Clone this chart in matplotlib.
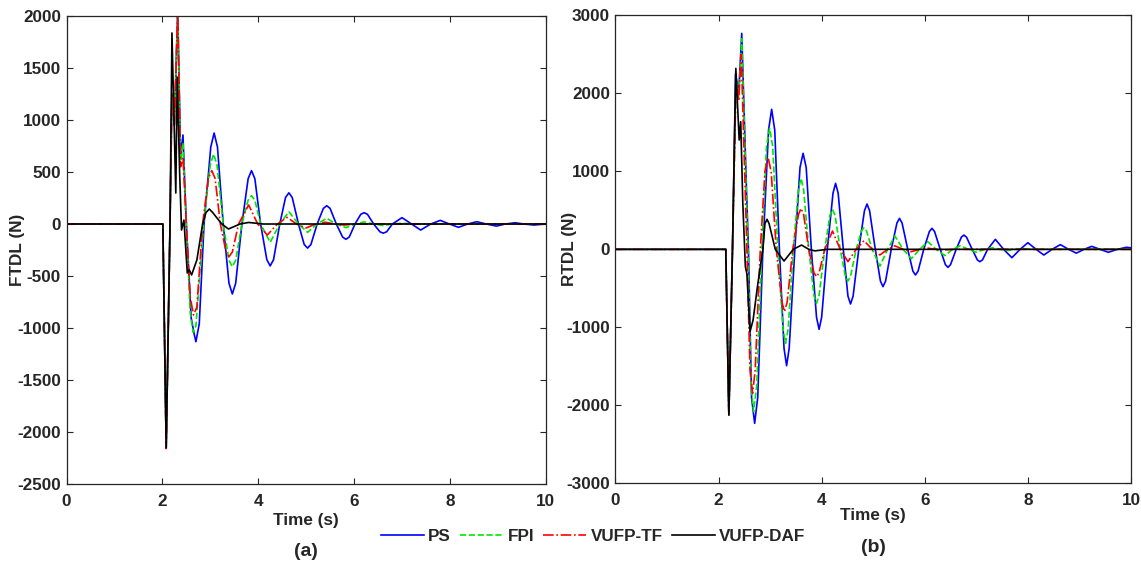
import matplotlib
matplotlib.use("Agg")
import matplotlib.pyplot as plt

plt.rcParams['font.family'] = ['Liberation Sans', 'DejaVu Sans']
plt.rcParams['font.weight'] = 'bold'
plt.rcParams['axes.unicode_minus'] = False

# ---- (a) FTDL, values ----
ftdl_ps_t = [0, 2.01, 2.08, 2.16, 2.20, 2.25, 2.32, 2.38, 2.43, 2.50, 2.60, 2.66, 2.70, 2.77,
             2.87, 3.01, 3.08, 3.15, 3.27, 3.39, 3.46, 3.53, 3.66, 3.79, 3.86, 3.93, 4.05,
             4.18, 4.25, 4.32, 4.45, 4.57, 4.64, 4.71, 4.84, 4.96, 5.03, 5.10, 5.23, 5.36,
             5.43, 5.50, 5.63, 5.76, 5.83, 5.90, 6.02, 6.14, 6.21, 6.28, 6.41, 6.54, 6.61,
             6.68, 6.80, 7.00, 7.20, 7.39, 7.60, 7.80, 7.99, 8.18, 8.37, 8.56, 8.76, 8.97,
             9.16, 9.36, 9.55, 9.75, 10.0]
ftdl_ps_v = [0, 0, -2150, 0, 1250, 950, 2050, 650, 856, 0, -900, -1050, -1132, -960,
             0, 740, 875, 740, 0, -570, -673, -570, 0, 436, 513, 436, 0,
             -343, -403, -343, 0, 255, 300, 255, 0, -197, -232, -197, 0, 150,
             176, 150, 0, -125, -147, -125, 0, 93, 109, 93, 0, -75, -88,
             -75, 0, 61, 0, -58, 0, 35, 0, -32, 0, 22, 0, -20,
             0, 12, 0, -10, 0]

ftdl_fpi_t = [0, 2.01, 2.08, 2.16, 2.20, 2.25, 2.32, 2.38, 2.43, 2.50, 2.58, 2.64, 2.70,
              2.86, 3.00, 3.07, 3.14, 3.27, 3.39, 3.46, 3.53, 3.66, 3.79, 3.86, 3.93, 4.05,
              4.25, 4.45, 4.64, 4.84, 5.03, 5.23, 5.43, 5.63, 5.83, 6.02, 6.21, 6.41, 6.61,
              6.80, 7.00, 7.20, 10.0]
ftdl_fpi_v = [0, 0, -2150, 0, 1250, 950, 2050, 600, 780, 0, -850, -1040, -980,
              0, 570, 673, 570, 0, -350, -410, -350, 0, 230, 272, 230, 0,
              -176, 0, 118, 0, -80, 0, 55, 0, -35, 0, 20, 0, -15,
              0, 8, 0, 0]

ftdl_tf_t = [0, 2.01, 2.08, 2.16, 2.20, 2.25, 2.32, 2.38, 2.43, 2.50, 2.58, 2.65, 2.72,
             2.84, 2.96, 3.03, 3.10, 3.21, 3.33, 3.39, 3.46, 3.59, 3.80, 3.99, 4.19, 4.40,
             4.60, 4.80, 5.00, 5.20, 5.40, 5.60, 5.80, 6.00, 10.0]
ftdl_tf_v = [0, 0, -2160, 0, 1250, 950, 2050, 550, 640, 0, -700, -875, -800,
             0, 440, 513, 440, 0, -270, -314, -270, 0, 183, 0, -106, 0,
             64, 0, -38, 0, 17, 0, -10, 0, 0]

ftdl_daf_t = [0, 2.01, 2.08, 2.16, 2.20, 2.28, 2.31, 2.36, 2.40, 2.45, 2.52, 2.56, 2.61,
              2.72, 2.84, 2.91, 2.98, 3.05, 3.24, 3.38, 3.62, 3.80, 4.10, 10.0]
ftdl_daf_v = [0, 0, -2150, 0, 1837, 298, 1413, 500, -58, 38, -471, -440, -490,
              -346, 0, 110, 144, 110, 0, -48, 0, 15, 0, 0]

# ---- (b) RTDL ----
rtdl_ps_t = [0, 2.14, 2.20, 2.27, 2.33, 2.39, 2.45, 2.54, 2.58, 2.64, 2.70, 2.76, 2.86,
             2.97, 3.03, 3.09, 3.18, 3.27, 3.32, 3.37, 3.48, 3.58, 3.64, 3.70, 3.80,
             3.90, 3.95, 4.00, 4.11, 4.22, 4.27, 4.32, 4.42, 4.51, 4.56, 4.61, 4.72,
             4.83, 4.88, 4.93, 5.04, 5.14, 5.19, 5.24, 5.35, 5.46, 5.51, 5.56, 5.67,
             5.77, 5.82, 5.87, 5.98, 6.09, 6.14, 6.19, 6.30, 6.40, 6.45, 6.50, 6.61,
             6.71, 6.76, 6.81, 6.92, 7.02, 7.07, 7.12, 7.22, 7.37, 7.53, 7.69, 7.85,
             8.00, 8.16, 8.31, 8.47, 8.63, 8.79, 8.94, 9.09, 9.24, 9.40, 9.56, 9.74,
             9.91, 10.0]
rtdl_ps_v = [0, 0, -2124, 0, 2250, 2000, 2769, 800, 0, -1900, -2231, -1900, 0,
             1530, 1795, 1530, 0, -1270, -1492, -1270, 0, 1050, 1231, 1050, 0,
             -870, -1026, -870, 0, 720, 846, 720, 0, -600, -701, -600, 0,
             494, 581, 494, 0, -407, -479, -407, 0, 337, 397, 337, 0,
             -280, -329, -280, 0, 229, 269, 229, 0, -196, -231, -196, 0,
             156, 183, 156, 0, -135, -159, -135, 0, 128, 0, -107, 0,
             85, 0, -73, 0, 60, 0, -49, 0, 38, 0, -38, 0,
             26, 20]

rtdl_fpi_t = [0, 2.14, 2.20, 2.27, 2.34, 2.39, 2.45, 2.57, 2.63, 2.68, 2.74, 2.84, 2.93,
              2.99, 3.05, 3.15, 3.25, 3.30, 3.35, 3.45, 3.55, 3.60, 3.65, 3.75, 3.85,
              3.90, 3.95, 4.06, 4.16, 4.21, 4.26, 4.36, 4.46, 4.51, 4.56, 4.67, 4.77,
              4.82, 4.87, 4.98, 5.13, 5.28, 5.42, 5.58, 5.74, 5.90, 6.06, 6.22, 6.39,
              6.54, 6.69, 6.85, 7.00, 7.16, 7.31, 7.47, 7.62, 7.78, 7.93, 8.10, 10.0]
rtdl_fpi_v = [0, 0, -2124, 0, 2200, 1950, 2700, 0, -1750, -2080, -1750, 0, 1320,
              1551, 1320, 0, -1020, -1205, -1020, 0, 770, 910, 770, 0, -590,
              -692, -590, 0, 436, 513, 436, 0, -345, -406, -345, 0, 235,
              277, 235, 0, -215, 0, 171, 0, -120, 0, 98, 0, -80,
              0, 45, 0, -38, 0, 20, 0, -15, 0, 8, 0, 0]

rtdl_tf_t = [0, 2.14, 2.20, 2.27, 2.34, 2.39, 2.44, 2.55, 2.61, 2.66, 2.71, 2.81, 2.90,
             2.96, 3.02, 3.12, 3.23, 3.28, 3.33, 3.44, 3.55, 3.60, 3.65, 3.75, 3.85,
             3.90, 3.95, 4.06, 4.21, 4.36, 4.51, 4.67, 4.82, 4.98, 5.13, 5.28, 5.42,
             5.58, 5.74, 5.90, 6.06, 6.22, 6.38, 6.55, 10.0]
rtdl_tf_v = [0, 0, -2130, 0, 2150, 1900, 2500, 0, -1550, -1846, -1550, 0, 1000,
             1179, 1000, 0, -680, -800, -680, 0, 446, 525, 446, 0, -300,
             -351, -300, 0, 235, 0, -158, 0, 111, 0, -72, 0, 45,
             0, -30, 0, 15, 0, -8, 0, 0]

rtdl_daf_t = [0, 2.14, 2.20, 2.27, 2.335, 2.40, 2.43, 2.47, 2.52, 2.55, 2.61, 2.67, 2.76,
              2.86, 2.90, 2.94, 2.98, 3.10, 3.27, 3.45, 3.61, 3.75, 3.87, 4.10, 10.0]
rtdl_daf_v = [0, 0, -2124, 0, 2320, 1401, 1636, 600, -223, -315, -1056, -906, -450,
              0, 330, 385, 330, 0, -150, 0, 55, 0, -20, 0, 0]

names = ['PS', 'FPI', 'VUFP-TF', 'VUFP-DAF']
colors = ['#0000ff', '#00e600', '#ff0000', '#000000']
styles = ['-', '--', '-.', '-']

TXT = '#262626'
FS = 12.3

fig = plt.figure(figsize=(11.41, 5.62), dpi=100)
ax1 = fig.add_axes([0.0583, 0.1388, 0.4200, 0.8327])
ax2 = fig.add_axes([0.5394, 0.1400, 0.4518, 0.8327])

left_data = [(ftdl_ps_t, ftdl_ps_v), (ftdl_fpi_t, ftdl_fpi_v),
             (ftdl_tf_t, ftdl_tf_v), (ftdl_daf_t, ftdl_daf_v)]
right_data = [(rtdl_ps_t, rtdl_ps_v), (rtdl_fpi_t, rtdl_fpi_v),
              (rtdl_tf_t, rtdl_tf_v), (rtdl_daf_t, rtdl_daf_v)]

for (t, v), name, c, ls in zip(left_data, names, colors, styles):
    ax1.plot(t, v, color=c, linestyle=ls, linewidth=1.2, label=name)
for (t, v), name, c, ls in zip(right_data, names, colors, styles):
    ax2.plot(t, v, color=c, linestyle=ls, linewidth=1.2, label=name)

ax1.set_ylim(-2500, 2000)
ax1.set_yticks(range(-2500, 2001, 500))
ax1.set_ylabel('FTDL (N)', fontsize=FS, fontweight='bold', color=TXT)
ax1.yaxis.set_label_coords(-0.087, 0.5)
ax2.set_ylim(-3000, 3000)
ax2.set_yticks(range(-3000, 3001, 1000))
ax2.set_ylabel('RTDL (N)', fontsize=FS, fontweight='bold', color=TXT)
ax2.yaxis.set_label_coords(-0.075, 0.5)

for ax, tag, lp, ty in ((ax1, '(a)', 3, -0.145), (ax2, '(b)', 0, -0.137)):
    ax.set_xlim(0, 10)
    ax.set_xticks([0, 2, 4, 6, 8, 10])
    ax.set_xlabel('Time (s)', fontsize=FS, fontweight='bold', color=TXT, labelpad=lp)
    ax.tick_params(direction='in', top=True, right=True, length=4, width=0.8,
                   labelsize=FS, colors=TXT)
    ax.tick_params(axis='x', pad=7)
    ax.tick_params(axis='y', pad=4)
    for lab in ax.get_xticklabels() + ax.get_yticklabels():
        lab.set_fontweight('bold')
    for sp in ax.spines.values():
        sp.set_color(TXT)
        sp.set_linewidth(0.9)
    ax.text(0.5, ty, tag, transform=ax.transAxes, ha='center', va='center',
            fontsize=14, fontweight='bold', color=TXT)

handles, labels = ax1.get_legend_handles_labels()
fig.legend(handles, labels, loc='center', bbox_to_anchor=(0.52, 0.045), ncol=4,
           frameon=False, handlelength=2.5, columnspacing=0.55, handletextpad=0.25,
           prop={'size': FS, 'weight': 'bold'}, labelcolor=TXT)

fig.savefig('out.png', dpi=100)
